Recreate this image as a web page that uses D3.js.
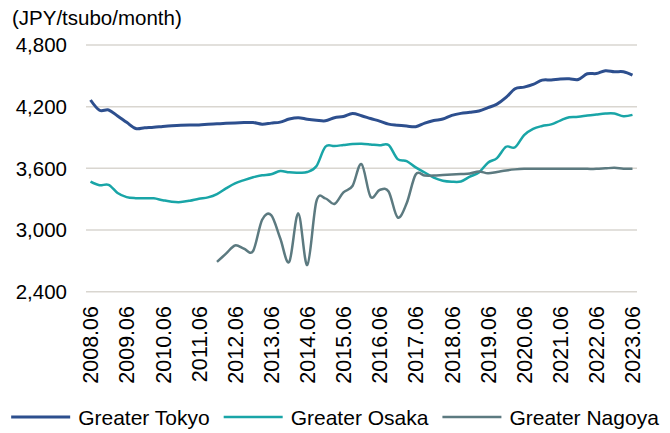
<!DOCTYPE html>
<html>
<head>
<meta charset="utf-8">
<script src="https://cdn.jsdelivr.net/npm/d3@7"></script>
<style>
  body { margin: 0; background: #fff; }
  svg { display: block; font-family: "Liberation Sans", Arial, sans-serif; }
</style>
</head>
<body>
<svg id="chart" width="670" height="433"></svg>
<script>
(function() {
'use strict';

// quarterly, 2008.06 - 2023.06
var quarters = [
    '2008.06', '2008.09', '2008.12', '2009.03', '2009.06', '2009.09', '2009.12', '2010.03',
    '2010.06', '2010.09', '2010.12', '2011.03', '2011.06', '2011.09', '2011.12', '2012.03',
    '2012.06', '2012.09', '2012.12', '2013.03', '2013.06', '2013.09', '2013.12', '2014.03',
    '2014.06', '2014.09', '2014.12', '2015.03', '2015.06', '2015.09', '2015.12', '2016.03',
    '2016.06', '2016.09', '2016.12', '2017.03', '2017.06', '2017.09', '2017.12', '2018.03',
    '2018.06', '2018.09', '2018.12', '2019.03', '2019.06', '2019.09', '2019.12', '2020.03',
    '2020.06', '2020.09', '2020.12', '2021.03', '2021.06', '2021.09', '2021.12', '2022.03',
    '2022.06', '2022.09', '2022.12', '2023.03', '2023.06'
];

var tickLabels = ['2008.06', '2009.06', '2010.06', '2011.06', '2012.06', '2013.06', '2014.06',
    '2015.06', '2016.06', '2017.06', '2018.06', '2019.06', '2020.06', '2021.06', '2022.06', '2023.06'];

var yTicks = [2400, 3000, 3600, 4200, 4800];

var tokyo = [
    4265, 4165, 4168, 4110, 4048, 3988, 3995, 4000,
    4008, 4015, 4020, 4022, 4022, 4028, 4033, 4038,
    4042, 4045, 4046, 4030, 4040, 4050, 4080, 4093,
    4078, 4068, 4062, 4092, 4105, 4133, 4112, 4085,
    4060, 4030, 4020, 4012, 4005, 4040, 4065, 4080,
    4115, 4135, 4145, 4158, 4190, 4225, 4290, 4375,
    4390, 4416, 4458, 4460, 4470, 4472, 4465, 4520,
    4522, 4550, 4540, 4540, 4507
];

var osaka = [
    3470, 3435, 3440, 3360, 3320, 3310, 3310, 3308,
    3290, 3275, 3272, 3285, 3305, 3318, 3350, 3405,
    3454, 3486, 3513, 3532, 3542, 3574, 3561, 3558,
    3564, 3620, 3810, 3817, 3827, 3837, 3840, 3833,
    3824, 3827, 3690, 3671, 3610, 3560, 3510, 3480,
    3470, 3472, 3520, 3560, 3655, 3700, 3810, 3805,
    3924, 3985, 4012, 4028, 4065, 4098, 4101, 4114,
    4124, 4133, 4133, 4107, 4120
];

var nagoya = [
    null, null, null, null, null, null, null, null,
    null, null, null, null, null, null, 2690, 2770,
    2850, 2818, 2796, 3100, 3145, 2920, 2690, 3162,
    2660, 3276, 3308, 3253, 3367, 3428, 3642, 3324,
    3390, 3375, 3123, 3260, 3540, 3530, 3530, 3535,
    3540, 3545, 3550, 3570, 3552, 3565, 3580, 3590,
    3595, 3595, 3595, 3595, 3595, 3595, 3595, 3595,
    3595, 3600, 3605, 3597, 3597
];

var series = [
    { name: 'Greater Tokyo', values: tokyo, color: '#2d4f8e', width: 3 },
    { name: 'Greater Osaka', values: osaka, color: '#19a5a7', width: 2.5 },
    { name: 'Greater Nagoya', values: nagoya, color: '#5c7a80', width: 2.5 }
];

var svg = d3.select('#chart');

var x = d3.scalePoint()
    .domain(quarters)
    .range([86, 637])
    .padding(0.5);

var y = d3.scaleLinear()
    .domain([2400, 4800])
    .range([291.7, 45]);

// gridlines + y labels
var yAxis = svg.append('g').attr('class', 'y-axis');
yAxis.selectAll('line').data(yTicks).enter().append('line')
    .attr('x1', 86).attr('x2', 637)
    .attr('y1', function (d) { return y(d); })
    .attr('y2', function (d) { return y(d); })
    .attr('stroke', '#d9d6d0')
    .attr('stroke-width', 1.5);
yAxis.selectAll('text').data(yTicks).enter().append('text')
    .attr('x', 67)
    .attr('y', function (d) { return y(d); })
    .attr('dy', '0.36em')
    .attr('text-anchor', 'end')
    .attr('font-size', '20.5px')
    .attr('fill', '#000')
    .text(function (d) { return d3.format(',')(d); });

svg.append('text')
    .attr('x', 12).attr('y', 25)
    .attr('font-size', '20.5px')
    .attr('fill', '#000')
    .text('(JPY/tsubo/month)');

// x labels, rotated
svg.append('g').attr('class', 'x-axis')
    .selectAll('text').data(tickLabels).enter().append('text')
    .attr('transform', function (d) { return 'translate(' + x(d) + ',306) rotate(-90)'; })
    .attr('dy', '0.36em')
    .attr('text-anchor', 'end')
    .attr('font-size', '21.5px')
    .attr('fill', '#000')
    .text(function (d) { return d; });

var line = d3.line()
    .defined(function (d) { return d != null; })
    .x(function (d, i) { return x(quarters[i]); })
    .y(function (d) { return y(d); })
    .curve(d3.curveCardinal.tension(0));

svg.append('g').attr('class', 'lines')
    .selectAll('path').data(series).enter().append('path')
    .attr('fill', 'none')
    .attr('stroke', function (d) { return d.color; })
    .attr('stroke-width', function (d) { return d.width; })
    .attr('stroke-linejoin', 'round')
    .attr('d', function (d) { return line(d.values); });

// legend, centred along the bottom
var legend = svg.append('g').attr('class', 'legend');
var items = legend.selectAll('g').data(series).enter().append('g');
items.append('line')
    .attr('x1', 0).attr('x2', 59)
    .attr('y1', 0).attr('y2', 0)
    .attr('stroke', function (d) { return d.color; })
    .attr('stroke-width', function (d) { return d.width; });
items.append('text')
    .attr('x', 67)
    .attr('dy', '0.36em')
    .attr('font-size', '21px')
    .attr('fill', '#000')
    .text(function (d) { return d.name; });

var offset = 0;
items.each(function () {
    var w = 67 + this.querySelector('text').getComputedTextLength();
    d3.select(this).attr('transform', 'translate(' + offset + ',0)');
    offset += w + 14;
});
offset -= 14;
legend.attr('transform', 'translate(' + ((670 - offset) / 2) + ',417)');

})();
</script>
</body>
</html>
